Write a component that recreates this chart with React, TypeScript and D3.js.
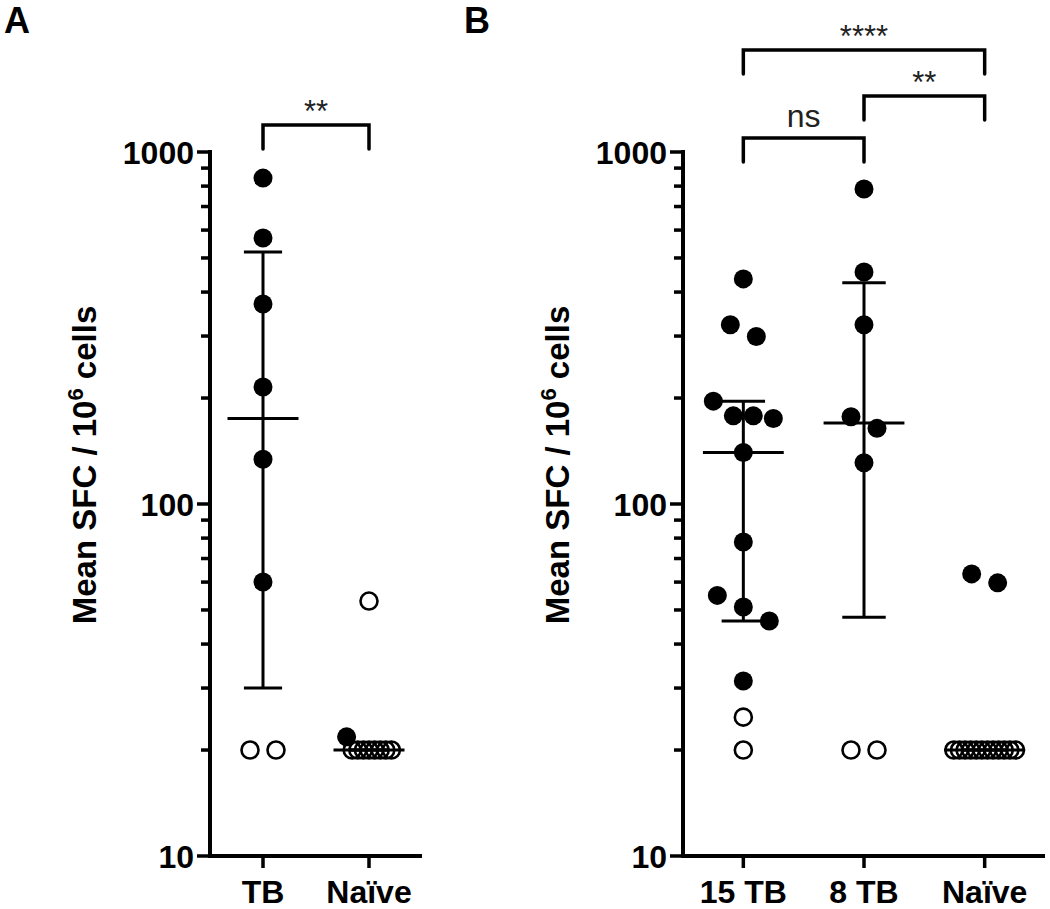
import React from 'react';
import * as d3 from 'd3';

// ---------- data ----------
const categoriesA = ['TB', 'Naïve'];
const categoriesB = ['15 TB', '8 TB', 'Naïve'];

// Panel A: filled = responders, open = non-responders
const tbAFilled = [843, 570, 370, 215, 134, 60];
const tbAOpen = [20, 20];
const naiveAFilled = [21.8];
const naiveAOpen = [53, 20, 20, 20, 20, 20, 20, 20, 20];
const medianA = [175, 20];
const q1A = [30, 20];
const q3A = [520, 20];

// Panel B
const tb15Filled = [436, 323, 299, 196, 178, 175, 178, 140, 78, 55, 51, 46.5, 31.4];
const tb15Open = [24.8, 20];
const tb8Filled = [785, 456, 323, 177, 164, 131];
const tb8Open = [20, 20];
const naiveBFilled = [63.3, 59.7];
const naiveBOpen = [20, 20, 20, 20, 20, 20, 20, 20, 20, 20, 20, 20];
const medianB = [140, 170, 20];
const q1B = [46.5, 47.7, 20];
const q3B = [196, 425, 20];

const yTickValues = [10, 100, 1000];
const yTickLabels = ['10', '100', '1000'];

const bracketsA = [{ from: 'TB', to: 'Naïve', label: '**' }];
const bracketsB = [
  { from: '15 TB', to: 'Naïve', label: '****' },
  { from: '8 TB', to: 'Naïve', label: '**' },
  { from: '15 TB', to: '8 TB', label: 'ns' },
];

// ---------- layout ----------
const W = 1050;
const H = 909;
const Y_TOP = 152;
const Y_BOTTOM = 856;
const FONT = 'Liberation Sans, Arial, Helvetica, sans-serif';

const yScale = d3.scaleLog().domain([10, 1000]).range([Y_BOTTOM, Y_TOP]);

type Pt = { v: number; filled: boolean };

function layoutGroup(points: Pt[], cx: number) {
  const sorted = [...points].sort((a, b) => b.v - a.v);
  const rows: Pt[][] = [];
  let prevY = -1e9;
  sorted.forEach((p) => {
    const y = yScale(p.v);
    if (rows.length && Math.abs(y - prevY) < 18) rows[rows.length - 1].push(p);
    else rows.push([p]);
    prevY = y;
  });
  const out: { x: number; y: number; filled: boolean }[] = [];
  rows.forEach((row) => {
    const n = row.length;
    const spacing = n > 4 ? 5.6 : n > 1 ? Math.min(26, 60 / (n - 1)) : 0;
    row.forEach((p, i) => {
      out.push({ x: cx + (i - (n - 1) / 2) * spacing, y: yScale(p.v), filled: p.filled });
    });
  });
  return out;
}

const mk = (filled: number[], open: number[]): Pt[] => [
  ...filled.map((v) => ({ v, filled: true })),
  ...open.map((v) => ({ v, filled: false })),
];

type PanelProps = {
  categories: string[];
  groups: Pt[][];
  medians: number[];
  q1: number[];
  q3: number[];
  x0: number;
  x1: number;
  letter: string;
  letterX: number;
  brackets: { from: string; to: string; label: string }[];
  bracketY: number[];
};

function Panel(p: PanelProps) {
  const x = d3.scaleBand().domain(p.categories).range([p.x0, p.x1]).padding(0);
  const bw = x.bandwidth();
  const cx = (c: string) => (x(c) as number) + bw / 2;
  const minor: number[] = [];
  [10, 100].forEach((d) => {
    for (let k = 2; k <= 9; k++) minor.push(k * d);
  });
  const medHalf = bw * 0.335;
  const capHalf = bw * 0.18;
  const titleX = p.x0 - 114;
  const titleY = 465;
  return (
    <g>
      <text x={p.letterX} y={33} fontFamily={FONT} fontWeight="bold" fontSize={36}>
        {p.letter}
      </text>
      {/* y axis title */}
      <text
        transform={`translate(${titleX},${titleY}) rotate(-90)`}
        textAnchor="middle"
        fontFamily={FONT}
        fontWeight="bold"
        fontSize={33}
      >
        Mean SFC / 10<tspan dy={-13} fontSize={22}>6</tspan>
        <tspan dy={13}> cells</tspan>
      </text>
      {/* axes */}
      <line x1={p.x0} x2={p.x0} y1={Y_TOP - 2} y2={Y_BOTTOM + 2} stroke="#000" strokeWidth={4} />
      <line x1={p.x0 - 2} x2={p.x1} y1={Y_BOTTOM} y2={Y_BOTTOM} stroke="#000" strokeWidth={4} />
      {yTickValues.map((v, i) => (
        <g key={v}>
          <line x1={p.x0 - 13} x2={p.x0} y1={yScale(v)} y2={yScale(v)} stroke="#000" strokeWidth={3.5} />
          <text
            x={p.x0 - 16}
            y={yScale(v) + 11.5}
            textAnchor="end"
            fontFamily={FONT}
            fontWeight="bold"
            fontSize={32}
          >
            {yTickLabels[i]}
          </text>
        </g>
      ))}
      {minor.map((v) => (
        <line key={v} x1={p.x0 - 9} x2={p.x0} y1={yScale(v)} y2={yScale(v)} stroke="#000" strokeWidth={3.5} />
      ))}
      {p.categories.map((c) => (
        <g key={c}>
          <line x1={cx(c)} x2={cx(c)} y1={Y_BOTTOM} y2={Y_BOTTOM + 12} stroke="#000" strokeWidth={3.5} />
          <text x={cx(c)} y={903} textAnchor="middle" fontFamily={FONT} fontWeight="bold" fontSize={32}>
            {c}
          </text>
        </g>
      ))}
      {/* median + IQR */}
      {p.categories.map((c, i) => (
        <g key={'m' + c} stroke="#000" strokeWidth={3}>
          <line x1={cx(c)} x2={cx(c)} y1={yScale(p.q3[i])} y2={yScale(p.q1[i])} />
          <line x1={cx(c) - capHalf} x2={cx(c) + capHalf} y1={yScale(p.q3[i])} y2={yScale(p.q3[i])} />
          <line x1={cx(c) - capHalf} x2={cx(c) + capHalf} y1={yScale(p.q1[i])} y2={yScale(p.q1[i])} />
          <line x1={cx(c) - medHalf} x2={cx(c) + medHalf} y1={yScale(p.medians[i])} y2={yScale(p.medians[i])} />
        </g>
      ))}
      {/* points */}
      {p.categories.map((c, i) =>
        layoutGroup(p.groups[i], cx(c)).map((pt, j) =>
          pt.filled ? (
            <circle key={c + j} cx={pt.x} cy={pt.y} r={9.5} fill="#000" />
          ) : (
            <circle key={c + j} cx={pt.x} cy={pt.y} r={8.5} fill="none" stroke="#000" strokeWidth={2.6} />
          )
        )
      )}
      {/* significance brackets */}
      {p.brackets.map((b, i) => {
        const xa = cx(b.from);
        const xb = cx(b.to);
        const yb = p.bracketY[i];
        const isNs = b.label === 'ns';
        return (
          <g key={'b' + i}>
            <path
              d={`M${xa},${yb + 24} V${yb} H${xb} V${yb + 24}`}
              fill="none"
              stroke="#000"
              strokeWidth={3.5}
              strokeLinecap="round"
              strokeLinejoin="miter"
            />
            <text
              x={(xa + xb) / 2}
              y={isNs ? yb - 11 : yb - 3}
              textAnchor="middle"
              fontFamily={FONT}
              fontSize={isNs ? 32 : 31}
              fill="#222"
            >
              {b.label}
            </text>
          </g>
        );
      })}
    </g>
  );
}

export default function App() {
  return (
    <svg
      width={W}
      height={H}
      viewBox={`0 0 ${W} ${H}`}
      style={{ position: 'absolute', left: 0, top: 0, background: '#fff' }}
    >
      <rect width={W} height={H} fill="#fff" />
      <Panel
        categories={categoriesA}
        groups={[mk(tbAFilled, tbAOpen), mk(naiveAFilled, naiveAOpen)]}
        medians={medianA}
        q1={q1A}
        q3={q3A}
        x0={210}
        x1={422}
        letter="A"
        letterX={4}
        brackets={bracketsA}
        bracketY={[125]}
      />
      <Panel
        categories={categoriesB}
        groups={[mk(tb15Filled, tb15Open), mk(tb8Filled, tb8Open), mk(naiveBFilled, naiveBOpen)]}
        medians={medianB}
        q1={q1B}
        q3={q3B}
        x0={683}
        x1={1045}
        letter="B"
        letterX={464}
        brackets={bracketsB}
        bracketY={[50, 96, 138]}
      />
    </svg>
  );
}
